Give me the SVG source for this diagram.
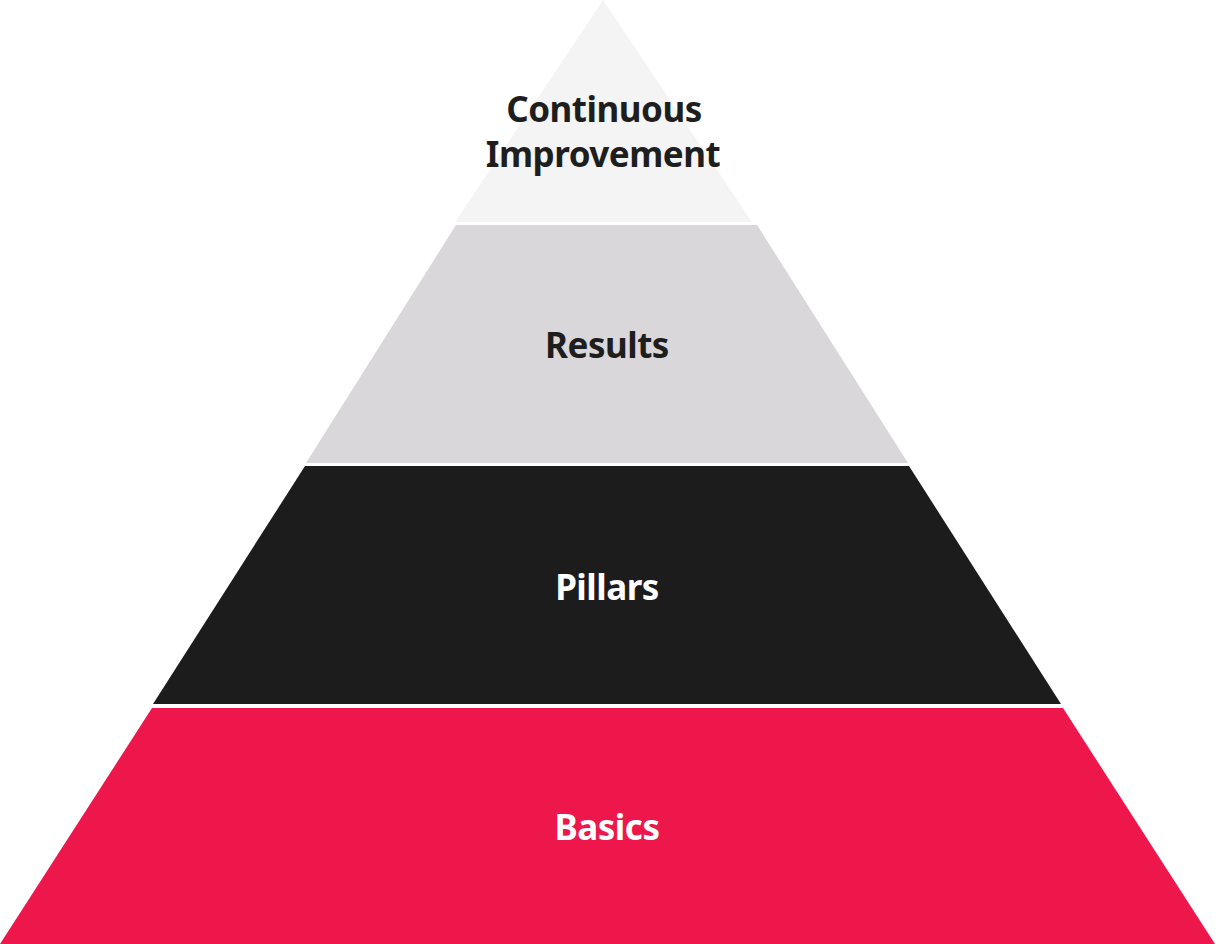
<svg xmlns="http://www.w3.org/2000/svg" width="1216" height="944" viewBox="0 0 1216 944">
<style>
.lbl{font-family:"Noto Sans","Open Sans","Liberation Sans",sans-serif;font-weight:700;font-size:35px;text-anchor:middle;letter-spacing:-0.5px}
.dark{fill:#1e1e1e}
.light{fill:#ffffff}
</style>
<rect width="1216" height="944" fill="#ffffff"/>
<g id="layer-continuous">
<polygon points="603,0 752,222 455,222" fill="#f4f4f4"/>
<text class="lbl dark" x="604" y="122">Continuous</text>
<text class="lbl dark" x="603" y="167">Improvement</text>
</g>
<g id="layer-results">
<polygon points="456,225 757,225 908,463 306,463" fill="#d9d7da"/>
<text class="lbl dark" x="607" y="358">Results</text>
</g>
<g id="layer-pillars">
<polygon points="305,466 909,466 1061,704 153,704" fill="#1c1c1c"/>
<text class="lbl light" x="607" y="600">Pillars</text>
</g>
<g id="layer-basics">
<polygon points="152,708 1063,708 1215,944 0,944" fill="#ee174b"/>
<text class="lbl light" x="607" y="840">Basics</text>
</g>
<g id="connectors"></g>
</svg>
